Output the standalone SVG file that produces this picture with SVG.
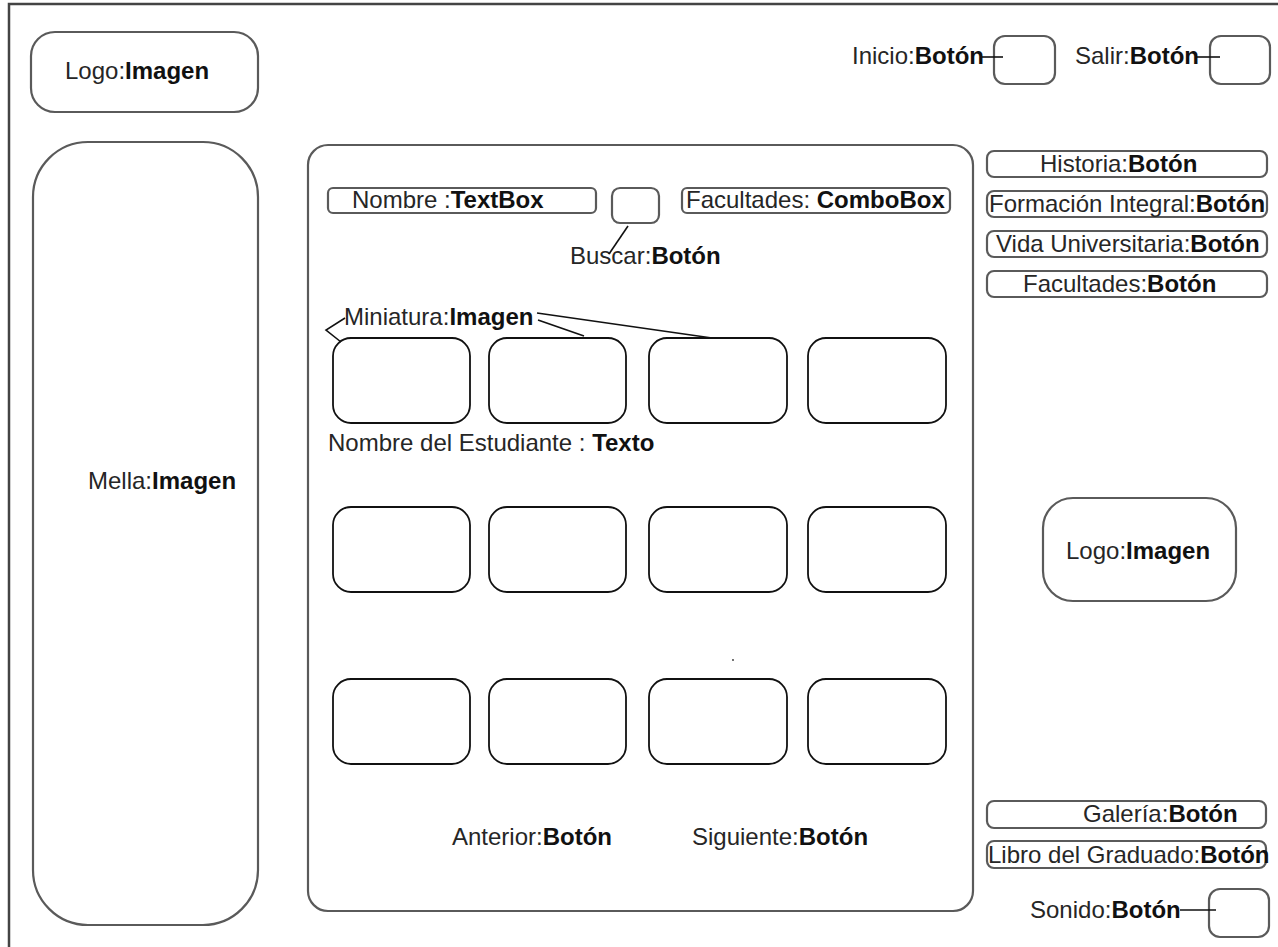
<svg xmlns="http://www.w3.org/2000/svg" width="1278" height="947" viewBox="0 0 1278 947">
  <style>
    .box { fill: #fff; stroke: #5a5a5a; stroke-width: 2.2; }
    .thumb { fill: #fff; stroke: #111; stroke-width: 1.8; }
    .frame { fill: none; stroke: #444; stroke-width: 2.5; }
    .link { fill: none; stroke: #111; stroke-width: 1.6; }
    text { font-family: "Liberation Sans", Arial, sans-serif; font-size: 24px; fill: #262626; }
    .b { font-weight: bold; fill: #111; }
  </style>

  <rect width="1278" height="947" fill="#fff"/>

  <!-- page frame (open on right and bottom) -->
  <path class="frame" d="M 9 947 L 9 4 L 1278 4"/>

  <g id="logo-top">
    <rect class="box" x="31" y="32" width="227" height="80" rx="24"/>
    <text x="65" y="79">Logo:<tspan class="b">Imagen</tspan></text>
  </g>

  <g id="mella">
    <rect class="box" x="33" y="142" width="225" height="783" rx="55"/>
    <text x="88" y="489">Mella:<tspan class="b">Imagen</tspan></text>
  </g>

  <g id="inicio">
    <text x="852" y="64">Inicio:<tspan class="b">Botón</tspan></text>
    <rect class="box" x="994" y="36" width="61" height="48" rx="11"/>
  </g>

  <g id="salir">
    <text x="1075" y="64">Salir:<tspan class="b">Botón</tspan></text>
    <rect class="box" x="1210" y="36" width="60" height="48" rx="11"/>
  </g>

  <g id="panel">
    <rect class="box" x="308" y="145" width="665" height="766" rx="20"/>
  </g>

  <g id="nombre">
    <rect class="box" x="328" y="188" width="268" height="25" rx="5"/>
    <text x="352" y="208">Nombre :<tspan class="b">TextBox</tspan></text>
  </g>

  <g id="buscar">
    <rect class="box" x="612" y="188" width="47" height="35" rx="8"/>
    <text x="570" y="264">Buscar:<tspan class="b">Botón</tspan></text>
  </g>

  <g id="facultades-combo">
    <rect class="box" x="682" y="188" width="268" height="25" rx="5"/>
    <text x="686" y="208">Facultades: <tspan class="b">ComboBox</tspan></text>
  </g>

  <g id="miniatura-label">
    <text x="344" y="325">Miniatura:<tspan class="b">Imagen</tspan></text>
  </g>

  <g id="thumbs-row1">
    <rect class="thumb" x="333" y="338" width="137" height="85" rx="18"/>
    <rect class="thumb" x="489" y="338" width="137" height="85" rx="18"/>
    <rect class="thumb" x="649" y="338" width="138" height="85" rx="18"/>
    <rect class="thumb" x="808" y="338" width="138" height="85" rx="18"/>
  </g>

  <g id="estudiante">
    <text x="328" y="451">Nombre del Estudiante : <tspan class="b">Texto</tspan></text>
  </g>

  <g id="thumbs-row2">
    <rect class="thumb" x="333" y="507" width="137" height="85" rx="18"/>
    <rect class="thumb" x="489" y="507" width="137" height="85" rx="18"/>
    <rect class="thumb" x="649" y="507" width="138" height="85" rx="18"/>
    <rect class="thumb" x="808" y="507" width="138" height="85" rx="18"/>
  </g>

  <g id="thumbs-row3">
    <rect class="thumb" x="333" y="679" width="137" height="85" rx="18"/>
    <rect class="thumb" x="489" y="679" width="137" height="85" rx="18"/>
    <rect class="thumb" x="649" y="679" width="138" height="85" rx="18"/>
    <rect class="thumb" x="808" y="679" width="138" height="85" rx="18"/>
  </g>

  <circle cx="733" cy="660" r="0.9" fill="#333"/>

  <g id="anterior">
    <text x="452" y="845">Anterior:<tspan class="b">Botón</tspan></text>
  </g>

  <g id="siguiente">
    <text x="692" y="845">Siguiente:<tspan class="b">Botón</tspan></text>
  </g>

  <g id="historia">
    <rect class="box" x="987" y="151" width="280" height="26" rx="7"/>
    <text x="1040" y="172">Historia:<tspan class="b">Botón</tspan></text>
  </g>

  <g id="formacion">
    <rect class="box" x="987" y="191" width="280" height="26" rx="7"/>
    <text x="989" y="212">Formación Integral:<tspan class="b">Botón</tspan></text>
  </g>

  <g id="vida">
    <rect class="box" x="987" y="231" width="280" height="26" rx="7"/>
    <text x="996" y="252">Vida Universitaria:<tspan class="b">Botón</tspan></text>
  </g>

  <g id="facultades-btn">
    <rect class="box" x="987" y="271" width="280" height="26" rx="7"/>
    <text x="1023" y="292">Facultades:<tspan class="b">Botón</tspan></text>
  </g>

  <g id="logo-right">
    <rect class="box" x="1043" y="498" width="193" height="103" rx="30"/>
    <text x="1066" y="559">Logo:<tspan class="b">Imagen</tspan></text>
  </g>

  <g id="galeria">
    <rect class="box" x="987" y="801" width="279" height="27" rx="7"/>
    <text x="1083" y="822">Galería:<tspan class="b">Botón</tspan></text>
  </g>

  <g id="libro">
    <rect class="box" x="987" y="841" width="279" height="27" rx="7"/>
    <text x="988" y="863">Libro del Graduado:<tspan class="b">Botón</tspan></text>
  </g>

  <g id="sonido">
    <text x="1030" y="918">Sonido:<tspan class="b">Botón</tspan></text>
    <rect class="box" x="1209" y="889" width="60" height="48" rx="11"/>
  </g>

  <!-- label leader lines -->
  <g id="connectors">
    <line class="link" x1="982" y1="57" x2="1003" y2="57"/>
    <line class="link" x1="1196" y1="57" x2="1220" y2="57"/>
    <line class="link" x1="1180" y1="910" x2="1216" y2="910"/>
    <line class="link" x1="628" y1="226" x2="609" y2="254"/>
    <polyline class="link" points="345,318 326,330 341,342"/>
    <line class="link" x1="537" y1="313" x2="712" y2="338"/>
    <line class="link" x1="538" y1="320" x2="584" y2="336"/>
  </g>
</svg>
